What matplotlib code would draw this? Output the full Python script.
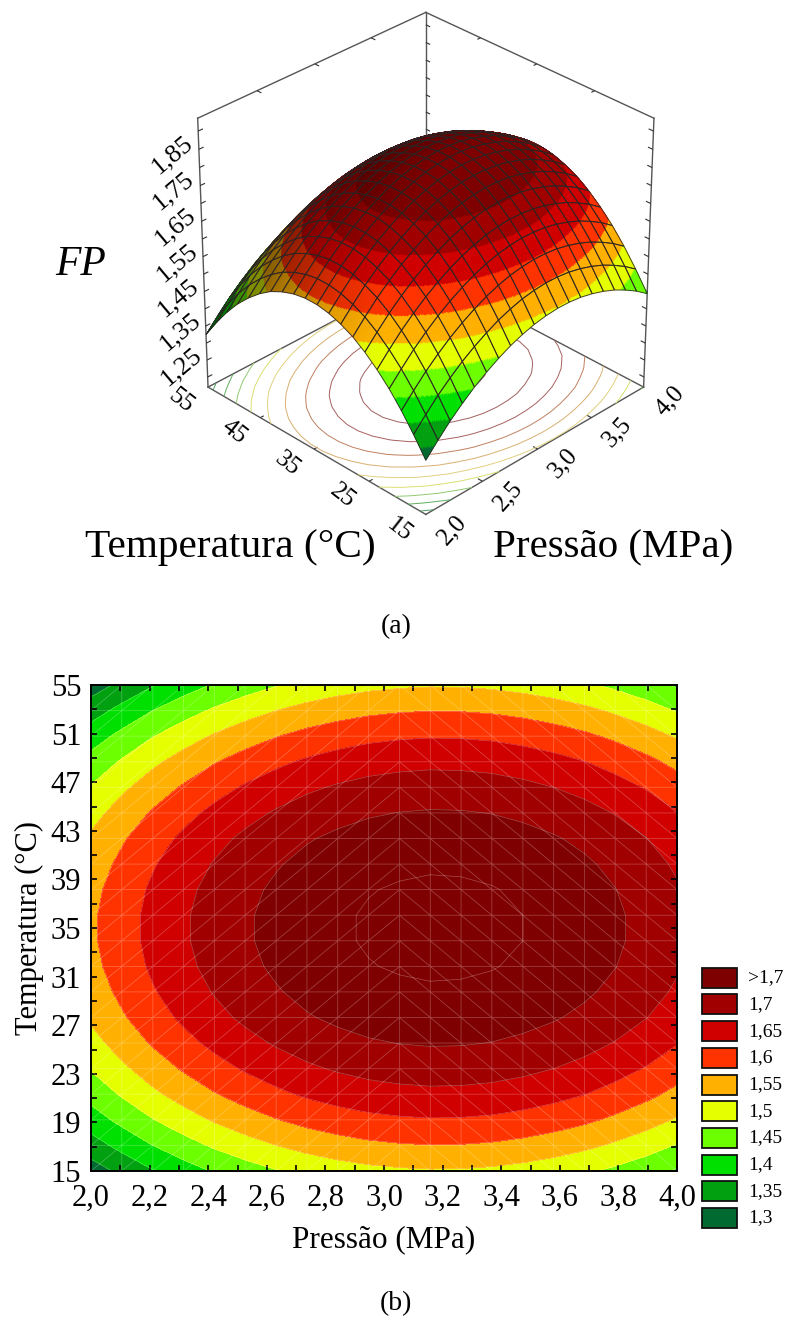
import numpy as np
import matplotlib
matplotlib.use('Agg')
import matplotlib.pyplot as plt
import matplotlib.tri as mtri
from matplotlib.patches import Rectangle
from mpl_toolkits.mplot3d import proj3d
from mpl_toolkits.mplot3d.art3d import Poly3DCollection, Line3DCollection

plt.rcParams['font.family'] = ['Liberation Serif', 'DejaVu Serif']

# FP read along T=35 for each pressure node, and along P=3,2 for each temperature node
pressao = [2.000, 2.105, 2.211, 2.316, 2.421, 2.526, 2.632, 2.737, 2.842, 2.947,
           3.053, 3.158, 3.263, 3.368, 3.474, 3.579, 3.684, 3.789, 3.895, 4.000]
fp_pressao = [1.543, 1.580, 1.615, 1.645, 1.672, 1.695, 1.715, 1.732, 1.745, 1.755,
              1.761, 1.764, 1.763, 1.759, 1.751, 1.740, 1.726, 1.708, 1.687, 1.662]
temperatura = [15.00, 17.11, 19.21, 21.32, 23.42, 25.53, 27.63, 29.74, 31.84, 33.95,
               36.05, 38.16, 40.26, 42.37, 44.47, 46.58, 48.68, 50.79, 52.89, 55.00]
fp_temperatura = [1.496, 1.549, 1.597, 1.639, 1.674, 1.704, 1.728, 1.745, 1.757, 1.763,
                  1.763, 1.757, 1.745, 1.728, 1.704, 1.674, 1.639, 1.597, 1.549, 1.496]
fp_pico = 1.764

niveis = [1.0, 1.3, 1.35, 1.4, 1.45, 1.5, 1.55, 1.6, 1.65, 1.7, 2.0]
cores = ['#006a30', '#00a010', '#00e000', '#6cff00', '#e5ff00',
         '#ffb000', '#ff3300', '#d00000', '#a00000', '#7f0000']
legenda = ['1,3', '1,35', '1,4', '1,45', '1,5', '1,55', '1,6', '1,65', '1,7', '>1,7']

x_ticks = [2.0, 2.2, 2.4, 2.6, 2.8, 3.0, 3.2, 3.4, 3.6, 3.8, 4.0]
y_ticks = [15, 19, 23, 27, 31, 35, 39, 43, 47, 51, 55]
z_ticks = [1.25, 1.35, 1.45, 1.55, 1.65, 1.75, 1.85]
p_ticks = [2.0, 2.5, 3.0, 3.5, 4.0]
t_ticks = [15, 25, 35, 45, 55]

P, T = np.meshgrid(pressao, temperatura)
Z = np.array(fp_temperatura)[:, None] + np.array(fp_pressao)[None, :] - fp_pico
ny, nx = Z.shape


def virgula(v, fmt):
    return format(v, fmt).replace('.', ',')


W, H = 787, 1321
fig = plt.figure(figsize=(W / 100, H / 100), dpi=100)


def px_text(x, y, s, **kw):
    fig.text(x / W, 1 - y / H, s, ha='center', va='center', **kw)


# triangles of the grid: diagonals change direction at the 11th column
tris = []
for j in range(ny - 1):
    for i in range(nx - 1):
        a, b, c, d = j * nx + i, j * nx + i + 1, (j + 1) * nx + i + 1, (j + 1) * nx + i
        if i < 10:
            tris += [[a, b, c], [a, c, d]]
        else:
            tris += [[a, b, d], [b, c, d]]
tris = np.array(tris)

# ── (a) surface ──
z_min, z_max = 1.12, 1.885
z_box = 1.0
ax3 = fig.add_axes([-0.093, 0.488, 1.24, 0.62], projection='3d', computed_zorder=False)
ax3.set_proj_type('persp', focal_length=0.8)
ax3.view_init(elev=31.5, azim=-135)
ax3.set_box_aspect((1, 1, z_box), zoom=0.647)
ax3.set_xlim(2, 4)
ax3.set_ylim(15, 55)
ax3.set_zlim(z_min, z_max)
ax3.axis('off')
ax3.patch.set_alpha(0)

# box edges
cor_caixa = '#555555'
for xs, ys, zs in [([2, 4], [15, 15], [z_min, z_min]), ([2, 2], [15, 55], [z_min, z_min]),
                   ([4, 4], [15, 55], [z_min, z_min]), ([2, 4], [55, 55], [z_min, z_min]),
                   ([2, 2], [55, 55], [z_min, z_max]), ([4, 4], [15, 15], [z_min, z_max]),
                   ([4, 4], [55, 55], [z_min, z_max]),
                   ([2, 4], [55, 55], [z_max, z_max]), ([4, 4], [15, 55], [z_max, z_max])]:
    ax3.plot(xs, ys, zs, color=cor_caixa, lw=1.0, zorder=0.5)

# ticks on the edges
tk = []
for z in np.arange(1.15, 1.88, 0.05):
    tk.append([(2, 55, z), (2.04, 55, z)])
    tk.append([(4, 15, z), (4, 15.8, z)])
    tk.append([(4, 55, z), (4, 54.2, z)])
for v in t_ticks[1:-1]:
    tk.append([(2, v, z_min), (2.03, v, z_min)])
    tk.append([(4, v, z_max), (3.97, v, z_max)])
for v in p_ticks[1:-1]:
    tk.append([(v, 15, z_min), (v, 15.8, z_min)])
    tk.append([(v, 55, z_max), (v, 54.2, z_max)])
ax3.add_collection3d(Line3DCollection(tk, colors='#333333', linewidths=0.8, zorder=0.6))

cores_base = ['#4f9a5f', '#5fae5f', '#8fca70', '#d8e070', '#e2d080', '#d8b070',
              '#c08060', '#a86060', '#a06060']
ax3.contour(P, T, Z, levels=niveis[1:-1] + [1.75], zdir='z', offset=z_min,
            colors=cores_base + ['#7a5050'], linewidths=0.7, zorder=1)

M = ax3.get_proj()


def frente(xs, ys, zs):
    # front-facing test: signed area of the projected polygon
    u, v, _ = proj3d.proj_transform(np.asarray(xs), np.asarray(ys), np.asarray(zs), M)
    return 0.5 * np.sum(u * np.roll(v, -1, axis=-1) - np.roll(u, -1, axis=-1) * v, axis=-1) > 0


base = mtri.Triangulation(P.ravel(), T.ravel(), tris)
fino, z_fino = mtri.UniformTriRefiner(base).refine_field(Z.ravel(), subdiv=4)
t = fino.triangles
xv, yv, zv = fino.x[t], fino.y[t], z_fino[t]
u, v, _ = proj3d.proj_transform(xv.ravel(), yv.ravel(), zv.ravel(), M)
u, v = u.reshape(t.shape), v.reshape(t.shape)
area = np.sum(u * np.roll(v, -1, axis=1) - np.roll(u, -1, axis=1) * v, axis=1)
vis = area > 0

# shading from the normal in box units
pts = np.stack([(xv - 2) / 2, (yv - 15) / 40, (zv - z_min) / (z_max - z_min) * z_box], axis=2)
n = np.cross(pts[:, 1] - pts[:, 0], pts[:, 2] - pts[:, 0])
n /= np.linalg.norm(n, axis=1, keepdims=True)
luz = np.array([0.1, -0.75, 0.65])
luz = luz / np.linalg.norm(luz)
sombra = np.clip(0.55 + 0.62 * np.clip(n @ luz, 0, 1), 0, 1)

rgb = np.array([matplotlib.colors.to_rgb(c) for c in cores])
idx = np.clip(np.digitize(zv.mean(axis=1), niveis) - 1, 0, len(cores) - 1)
fc = rgb[idx] * sombra[:, None]
verts = np.stack([xv, yv, zv], axis=2)[vis]
ax3.add_collection3d(Poly3DCollection(verts, facecolors=fc[vis], edgecolors=fc[vis],
                                      linewidths=0.3, zorder=3))

# mesh, only on cells that face the viewer
seg = []
for j in range(ny - 1):
    for i in range(nx - 1):
        jj, ii = [j, j, j + 1, j + 1], [i, i + 1, i + 1, i]
        if frente(P[jj, ii], T[jj, ii], Z[jj, ii]):
            p = list(zip(P[jj, ii], T[jj, ii], Z[jj, ii]))
            seg += [[p[k], p[(k + 1) % 4]] for k in range(4)]
ax3.add_collection3d(Line3DCollection(seg, colors='#2c2424', linewidths=0.7, alpha=0.85, zorder=4))


def box_text(x, y, z, s, **kw):
    # tick labels of the 3D box, placed at the projected position
    a, b, _ = proj3d.proj_transform(x, y, z, M)
    ax3.text2D(a, b, s, transform=ax3.transData, ha='center', va='center', **kw)


for z in z_ticks:
    box_text(1.78, 55, z - 0.03, virgula(z, '.2f'), fontsize=19, rotation=40)
for v in t_ticks:
    box_text(1.77, v, z_min, str(v), fontsize=18, rotation=-38)
for v in p_ticks:
    box_text(v, 10.5, z_min, virgula(v, '.1f'), fontsize=18, rotation=48)

px_text(81, 265, 'FP', fontsize=30, style='italic')
px_text(230, 548, 'Temperatura (°C)', fontsize=29.8)
px_text(613, 548, 'Pressão (MPa)', fontsize=29.5)
px_text(396, 627, '(a)', fontsize=20)
px_text(396, 1304, '(b)', fontsize=20)

# ── (b) contour map ──
ax = fig.add_axes([91 / W, 1 - 1171 / H, 586 / W, 486 / H])
ax.contourf(P, T, Z, levels=niveis, colors=cores)
ax.contour(P, T, Z, levels=niveis[1:-1] + [1.75], colors='white', linewidths=0.5, alpha=0.3)
ax.triplot(mtri.Triangulation(P.ravel(), T.ravel(), tris), color='white', lw=0.6, alpha=0.25)
ax.set_xlim(2, 4)
ax.set_ylim(15, 55)
ax.set_xticks(x_ticks, [virgula(v, '.1f') for v in x_ticks])
ax.set_yticks(y_ticks, [str(v) for v in y_ticks])
ax.set_xticks(np.arange(2.1, 4, 0.2), minor=True)
ax.set_yticks(np.arange(17, 55, 4), minor=True)
ax.tick_params(which='both', direction='in', top=True, right=True, length=4, width=1.2,
               labelsize=22)
ax.tick_params(axis='x', pad=9)
ax.tick_params(axis='y', pad=7)
for s in ax.spines.values():
    s.set_linewidth(1.4)
ax.set_xlabel('Pressão (MPa)', fontsize=22.5, labelpad=9)
ax.set_ylabel('Temperatura (°C)', fontsize=22, labelpad=5)

# legend
lax = fig.add_axes([0, 0, 1, 1], facecolor='none')
lax.set_xlim(0, W)
lax.set_ylim(H, 0)
lax.axis('off')
for k, (c, lab) in enumerate(zip(cores, legenda)):
    y0 = 1208 - k * 26.7
    lax.add_patch(Rectangle((702, y0), 35, 20, fc=c, ec='#111111', lw=1.3))
    lax.text(748, y0 + 10, lab, fontsize=14, va='center', ha='left')

fig.savefig('out.png', dpi=100)
